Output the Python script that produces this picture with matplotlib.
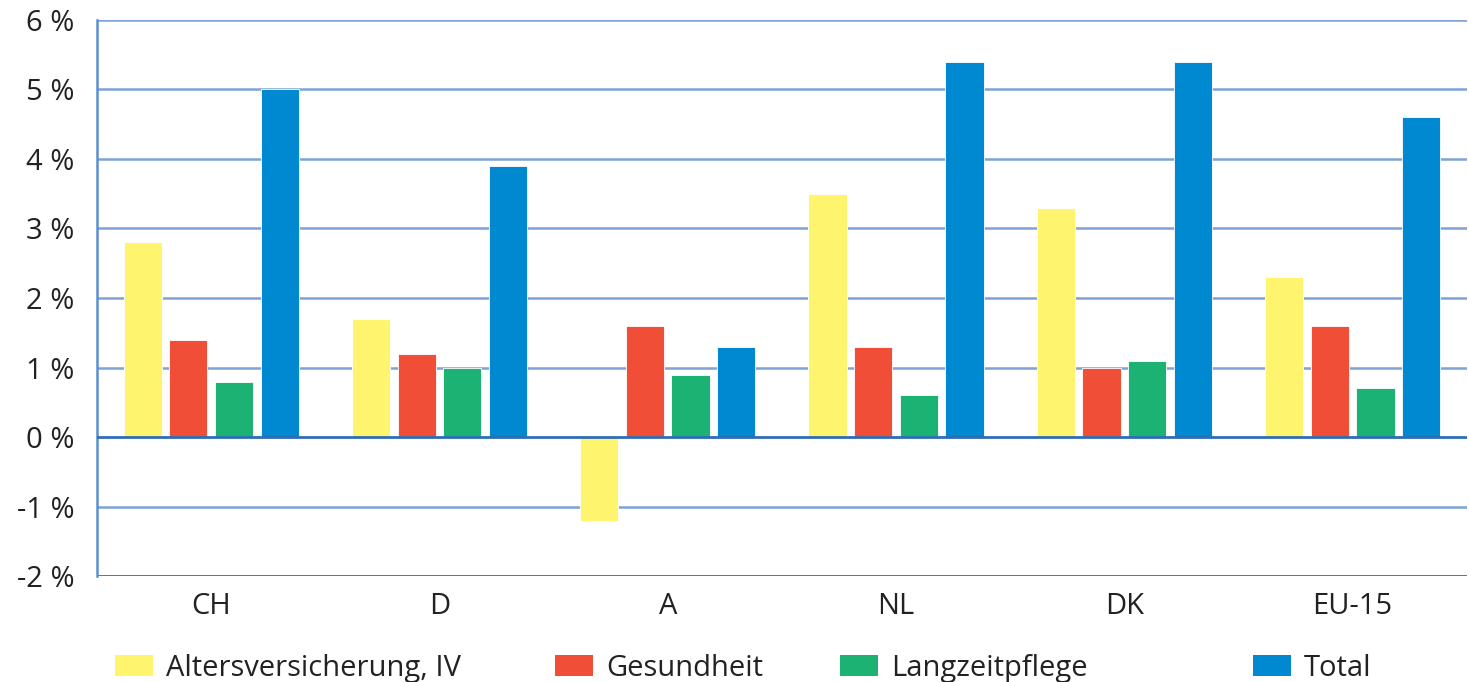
import matplotlib
matplotlib.use("Agg")
import matplotlib.pyplot as plt
import numpy as np
from matplotlib.patches import Patch

plt.rcParams['font.family'] = ['Open Sans', 'DejaVu Sans']

countries = ['CH', 'D', 'A', 'NL', 'DK', 'EU-15']
series_names = ['Altersversicherung, IV', 'Gesundheit', 'Langzeitpflege', 'Total']
alters = [2.8, 1.7, -1.2, 3.5, 3.3, 2.3]
gesundheit = [1.4, 1.2, 1.6, 1.3, 1.0, 1.6]
langzeit = [0.8, 1.0, 0.9, 0.6, 1.1, 0.7]
total = [5.0, 3.9, 1.3, 5.4, 5.4, 4.6]
y_ticks = [-2, -1, 0, 1, 2, 3, 4, 5, 6]

colors = ['#FFF46E', '#F04E37', '#1BB273', '#0088D1']
grid_col = '#7FA3D6'
axis_col = '#2F6DB5'
text_col = '#222222'

fig = plt.figure(figsize=(14.69, 6.82), dpi=100)
ax = fig.add_axes([0.066, 0.155, 0.9325, 0.816])

x = np.arange(len(countries))
width = 0.167
offsets = [-0.3, -0.1, 0.1, 0.3]
for vals, off, col in zip([alters, gesundheit, langzeit, total], offsets, colors):
    ax.bar(x + off, vals, width, color=col, edgecolor='white', linewidth=0.6, zorder=3)

ax.set_xlim(-0.5, len(countries) - 0.5)
ax.set_ylim(-2, 6)
ax.set_yticks(y_ticks)
ax.set_yticklabels([f'{v} %' for v in y_ticks])
ax.set_xticks(x)
ax.set_xticklabels(countries)

for v in y_ticks:
    if v == 0:
        ax.axhline(v, color=axis_col, lw=2.0, zorder=4)
    elif v == -2:
        ax.axhline(v, color=axis_col, lw=2.0, zorder=2)
    else:
        ax.axhline(v, color=grid_col, lw=1.8, zorder=1)

for s in ['top', 'right', 'bottom']:
    ax.spines[s].set_visible(False)
ax.spines['left'].set_color('#5B8FD0')
ax.spines['left'].set_linewidth(1.8)

ax.tick_params(axis='both', length=0, labelsize=21, colors=text_col)
ax.tick_params(axis='y', pad=16)
ax.tick_params(axis='x', pad=11)

# legend entries placed individually to mimic the uneven spacing
leg_x = [0.0783, 0.3778, 0.5718, 0.853]
for name, col, lx in zip(series_names, colors, leg_x):
    fig.legend(handles=[Patch(facecolor=col, edgecolor='none')], labels=[name],
               loc='center left', bbox_to_anchor=(lx, 0.02), frameon=False,
               fontsize=21, handlelength=1.3, handleheight=0.7, handletextpad=0.45,
               labelcolor=text_col, borderaxespad=0, borderpad=0)

fig.savefig('out.png', dpi=100)
